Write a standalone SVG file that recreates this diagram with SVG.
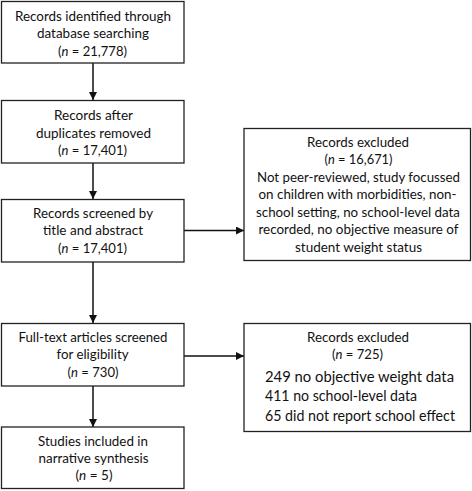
<svg xmlns="http://www.w3.org/2000/svg" width="472" height="491" viewBox="0 0 472 491">
<defs>
<style>
.box{fill:#fff;stroke:#222;stroke-width:1.3}
.t{font-family:Lato,"Open Sans","Liberation Sans",sans-serif;font-size:14px;fill:#111;text-anchor:middle}
.l{text-anchor:start;font-size:15.5px}
.c{stroke:#111;stroke-width:1.5;fill:none}
</style>
<marker id="ah" viewBox="0 0 10 10" refX="10" refY="5" markerWidth="8" markerHeight="8" markerUnits="userSpaceOnUse" orient="auto">
<path d="M0,0 L10,5 L0,10 Z" fill="#111"/>
</marker>
</defs>
<rect width="472" height="491" fill="#fff"/>
<g id="connectors">
<line class="c" x1="93" y1="63" x2="93" y2="100" marker-end="url(#ah)"/>
<line class="c" x1="93" y1="163" x2="93" y2="199" marker-end="url(#ah)"/>
<line class="c" x1="93" y1="262" x2="93" y2="323" marker-end="url(#ah)"/>
<line class="c" x1="93" y1="386" x2="93" y2="427" marker-end="url(#ah)"/>
<line class="c" x1="184" y1="230.5" x2="244" y2="230.5" marker-end="url(#ah)"/>
<line class="c" x1="184" y1="356" x2="244" y2="356" marker-end="url(#ah)"/>
</g>
<g id="identified">
<rect class="box" x="1.5" y="1.5" width="182.5" height="61.5"/>
<text class="t" x="93" y="20.5" textLength="156" lengthAdjust="spacingAndGlyphs">Records identified through</text>
<text class="t" x="93" y="38" textLength="112" lengthAdjust="spacingAndGlyphs">database searching</text>
<text class="t" x="92.5" y="55.5" textLength="69" lengthAdjust="spacingAndGlyphs">(<tspan font-style="italic">n</tspan> = 21,778)</text>
</g>
<g id="deduplicated">
<rect class="box" x="1.5" y="100.5" width="182.5" height="62.5"/>
<text class="t" x="93.5" y="120" textLength="79" lengthAdjust="spacingAndGlyphs">Records after</text>
<text class="t" x="93.5" y="137.5" textLength="115" lengthAdjust="spacingAndGlyphs">duplicates removed</text>
<text class="t" x="92.5" y="155" textLength="69" lengthAdjust="spacingAndGlyphs">(<tspan font-style="italic">n</tspan> = 17,401)</text>
</g>
<g id="screened">
<rect class="box" x="1.5" y="199.5" width="182.5" height="62.5"/>
<text class="t" x="93" y="217.5" textLength="120" lengthAdjust="spacingAndGlyphs">Records screened by</text>
<text class="t" x="93" y="235" textLength="100" lengthAdjust="spacingAndGlyphs">title and abstract</text>
<text class="t" x="92.5" y="252.5" textLength="69" lengthAdjust="spacingAndGlyphs">(<tspan font-style="italic">n</tspan> = 17,401)</text>
</g>
<g id="fulltext">
<rect class="box" x="1.5" y="323.5" width="182.5" height="62.5"/>
<text class="t" x="93" y="341.5" textLength="149" lengthAdjust="spacingAndGlyphs">Full-text articles screened</text>
<text class="t" x="92.5" y="359" textLength="72" lengthAdjust="spacingAndGlyphs">for eligibility</text>
<text class="t" x="93" y="376.5" textLength="51" lengthAdjust="spacingAndGlyphs">(<tspan font-style="italic">n</tspan> = 730)</text>
</g>
<g id="included">
<rect class="box" x="1.5" y="427" width="182.5" height="61.5"/>
<text class="t" x="93" y="445.5" textLength="110" lengthAdjust="spacingAndGlyphs">Studies included in</text>
<text class="t" x="93.5" y="463" textLength="110" lengthAdjust="spacingAndGlyphs">narrative synthesis</text>
<text class="t" x="94" y="480" textLength="37" lengthAdjust="spacingAndGlyphs">(<tspan font-style="italic">n</tspan> = 5)</text>
</g>
<g id="excluded1">
<rect class="box" x="244" y="128.5" width="226.5" height="132"/>
<text class="t" x="358" y="146.5" textLength="102" lengthAdjust="spacingAndGlyphs">Records excluded</text>
<text class="t" x="358.5" y="164" textLength="68" lengthAdjust="spacingAndGlyphs">(<tspan font-style="italic">n</tspan> = 16,671)</text>
<text class="t" x="358.5" y="181.5" textLength="203" lengthAdjust="spacingAndGlyphs">Not peer-reviewed, study focussed</text>
<text class="t" x="357.5" y="199" textLength="198" lengthAdjust="spacingAndGlyphs">on children with morbidities, non-</text>
<text class="t" x="358" y="216.5" textLength="204" lengthAdjust="spacingAndGlyphs">school setting, no school-level data</text>
<text class="t" x="358.5" y="234" textLength="200" lengthAdjust="spacingAndGlyphs">recorded, no objective measure of</text>
<text class="t" x="358.5" y="251.5" textLength="127" lengthAdjust="spacingAndGlyphs">student weight status</text>
</g>
<g id="excluded2">
<rect class="box" x="244" y="323.5" width="226.5" height="108"/>
<text class="t" x="358" y="341.5" textLength="102" lengthAdjust="spacingAndGlyphs">Records excluded</text>
<text class="t" x="357.5" y="359" textLength="51" lengthAdjust="spacingAndGlyphs">(<tspan font-style="italic">n</tspan> = 725)</text>
<text class="t l" x="265" y="381.5" textLength="189" lengthAdjust="spacingAndGlyphs">249 no objective weight data</text>
<text class="t l" x="265" y="401" textLength="152" lengthAdjust="spacingAndGlyphs">411 no school-level data</text>
<text class="t l" x="265" y="421" textLength="190" lengthAdjust="spacingAndGlyphs">65 did not report school effect</text>
</g>
</svg>
